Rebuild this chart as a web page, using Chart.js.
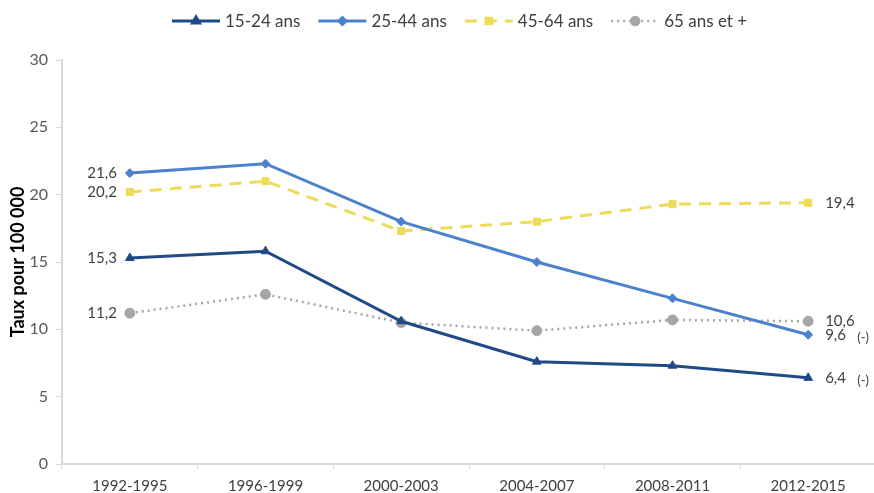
<!DOCTYPE html>
<html>
<head>
<meta charset="utf-8">
<script src="https://cdn.jsdelivr.net/npm/chart.js@4/dist/chart.umd.min.js"></script>
<style>
  html, body { margin: 0; padding: 0; background: #fff; overflow: hidden; }
  #wrap { width: 882px; height: 493px; }
</style>
</head>
<body>
<div id="wrap"><canvas id="chart" width="882" height="493"></canvas></div>
<script>
// données (taux pour 100 000)
const periodes = ['1992-1995', '1996-1999', '2000-2003', '2004-2007', '2008-2011', '2012-2015'];
const taux1524 = [15.3, 15.8, 10.6, 7.6, 7.3, 6.4];
const taux2544 = [21.6, 22.3, 18.0, 15.0, 12.3, 9.6];
const taux4564 = [20.2, 21.0, 17.3, 18.0, 19.3, 19.4];
const taux65 = [11.2, 12.6, 10.5, 9.9, 10.7, 10.6];
const groupes = ['15-24 ans', '25-44 ans', '45-64 ans', '65 ans et +'];
const notesFin = ['(-)', '(-)', '', ''];
const yTicks = [0, 5, 10, 15, 20, 25, 30];

const FONT = 'Lato, "Open Sans", sans-serif';

function fmt(v) {
    return v.toFixed(1).replace('.', ',');
}

// légende dessinée à la main (trait + marqueur comme Excel)
const legendePlugin = {
    id: 'legende',
    afterDraw(chart) {
        const ctx = chart.ctx;
        let x = 172;
        const y = 21;
        ctx.save();
        ctx.font = '17px ' + FONT;
        ctx.textBaseline = 'middle';
        chart.data.datasets.forEach(ds => {
            ctx.beginPath();
            ctx.strokeStyle = ds.borderColor;
            ctx.lineWidth = ds.borderWidth;
            ctx.setLineDash(ds.borderDash || []);
            ctx.moveTo(x, y);
            ctx.lineTo(x + 48, y);
            ctx.stroke();
            ctx.setLineDash([]);
            ctx.fillStyle = ds.pointBackgroundColor;
            ctx.strokeStyle = ds.pointBackgroundColor;
            Chart.helpers.drawPoint(ctx, {
                pointStyle: ds.pointStyle,
                radius: ds.pointRadius - 1,
                rotation: 0,
                borderWidth: 1
            }, x + 24, y);
            ctx.fillStyle = '#404040';
            ctx.textAlign = 'left';
            ctx.fillText(ds.label, x + 53, y + 1);
            x += 53 + ctx.measureText(ds.label).width + 18;
        });
        ctx.restore();
    }
};

// valeurs au début et à la fin de chaque courbe
const etiquettesPlugin = {
    id: 'etiquettes',
    afterDatasetsDraw(chart) {
        const ctx = chart.ctx;
        ctx.save();
        ctx.font = '15px ' + FONT;
        ctx.fillStyle = '#404040';
        ctx.textBaseline = 'middle';
        chart.data.datasets.forEach((ds, i) => {
            const pts = chart.getDatasetMeta(i).data;
            const first = pts[0];
            const last = pts[pts.length - 1];
            ctx.textAlign = 'right';
            ctx.fillText(fmt(ds.data[0]), first.x - 13, first.y);
            ctx.textAlign = 'left';
            ctx.fillText(fmt(ds.data[ds.data.length - 1]), last.x + 17, last.y);
            if (notesFin[i]) {
                ctx.font = '13px ' + FONT;
                ctx.fillText(notesFin[i], last.x + 49, last.y + 3);
                ctx.font = '15px ' + FONT;
            }
        });
        ctx.restore();
    }
};

const series = [
    { data: taux1524, color: '#1f4a87', style: 'triangle', r: 5, width: 3, dash: [] },
    { data: taux2544, color: '#4c82cc', style: 'rectRot', r: 4.5, width: 3, dash: [] },
    { data: taux4564, color: '#eedb5a', style: 'rect', r: 5, width: 3, dash: [12, 8] },
    { data: taux65, color: '#a6a6a6', style: 'circle', r: 5, width: 2.5, dash: [2, 4] }
];

new Chart(document.getElementById('chart'), {
    type: 'line',
    data: {
        labels: periodes,
        datasets: series.map((s, i) => ({
            label: groupes[i],
            data: s.data,
            borderColor: s.color,
            borderWidth: s.width,
            borderDash: s.dash,
            pointStyle: s.style,
            pointRadius: s.r,
            pointBackgroundColor: s.color,
            pointBorderColor: s.color,
            pointBorderWidth: 1,
            tension: 0,
            fill: false
        }))
    },
    options: {
        responsive: false,
        animation: false,
        layout: { padding: { top: 60, right: 3, left: 0, bottom: 0 } },
        plugins: {
            legend: { display: false },
            tooltip: { enabled: false }
        },
        scales: {
            x: {
                offset: true,
                grid: { offset: true, drawOnChartArea: false, drawTicks: true, tickLength: 5, color: '#d9d9d9' },
                border: { color: '#d9d9d9', width: 2 },
                ticks: { color: '#404040', font: { family: FONT, size: 15 }, padding: 8, maxRotation: 0 },
                afterFit(scale) { scale.height = 29; }
            },
            y: {
                min: 0,
                max: 30,
                afterBuildTicks(scale) { scale.ticks = yTicks.map(v => ({ value: v })); },
                grid: { drawOnChartArea: false, drawTicks: true, tickLength: 6, color: '#d9d9d9' },
                border: { color: '#d9d9d9', width: 2 },
                ticks: { color: '#595959', font: { family: FONT, size: 16 }, padding: 8 },
                title: {
                    display: true,
                    text: 'Taux pour 100 000',
                    color: '#000',
                    font: { family: FONT, size: 18, weight: 'bold' },
                    padding: { top: 7, bottom: 0 }
                },
                afterFit(scale) { scale.width = 62; }
            }
        }
    },
    plugins: [legendePlugin, etiquettesPlugin]
});
</script>
</body>
</html>
